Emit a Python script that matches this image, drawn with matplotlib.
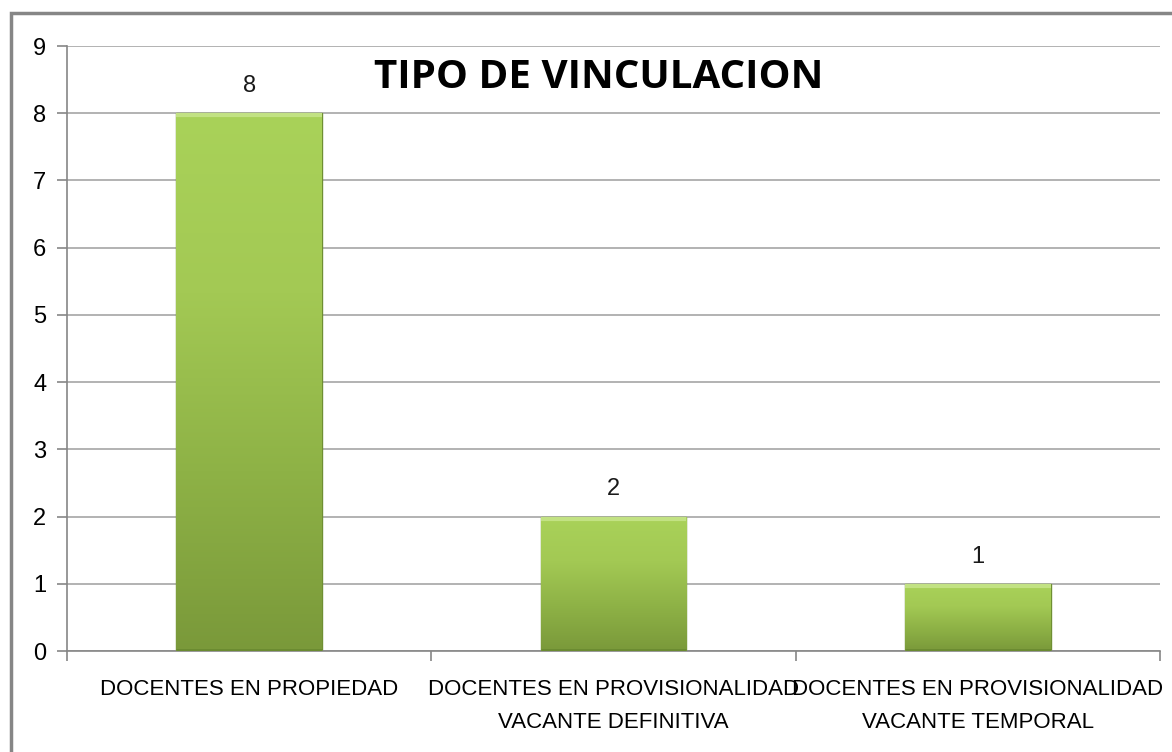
import numpy as np
import matplotlib.pyplot as plt
from matplotlib.colors import LinearSegmentedColormap
from matplotlib.patches import Rectangle

categorias = ["DOCENTES EN PROPIEDAD",
              "DOCENTES EN PROVISIONALIDAD\nVACANTE DEFINITIVA",
              "DOCENTES EN PROVISIONALIDAD\nVACANTE TEMPORAL"]
valores = [8, 2, 1]
titulo = "TIPO DE VINCULACION"

plt.rcParams['font.family'] = ['Liberation Sans', 'DejaVu Sans']

fig = plt.figure(figsize=(11.72, 7.52), dpi=100)
ax = fig.add_axes([67 / 1172, 101 / 752, 1093 / 1172, 605 / 752])

# borde exterior del grafico
fig.patches.append(Rectangle((11 / 1172, -0.01), 1.1, (752 - 13) / 752 + 0.01,
                             transform=fig.transFigure, fill=False,
                             edgecolor='#868686', linewidth=2.5))

x = np.arange(len(valores))
ax.set_xlim(-0.5, len(valores) - 0.5)
ax.set_ylim(0, 9)
ax.set_yticks(range(10))
ax.yaxis.grid(True, color='#a6a6a6', linewidth=1.2)
ax.set_axisbelow(True)

cmap = LinearSegmentedColormap.from_list('verde', ['#7a993a', '#8eb246', '#a3c954', '#a9d259'])
grad = np.linspace(0, 1, 256).reshape(-1, 1)
bars = ax.bar(x, valores, width=0.40, color='#9bc24d', edgecolor='#6f8f33', linewidth=1.0, zorder=2)
for b in bars:
    im = ax.imshow(grad, cmap=cmap, aspect='auto', origin='lower',
                   extent=[b.get_x(), b.get_x() + b.get_width(), 0, b.get_height()], zorder=3)
    im.set_clip_path(b)
    # bisel superior / inferior
    ax.plot([b.get_x(), b.get_x() + b.get_width()], [b.get_height() - 0.03] * 2,
            color='#c2e283', linewidth=3, zorder=4, solid_capstyle='butt')
    ax.plot([b.get_x(), b.get_x() + b.get_width()], [0.02, 0.02],
            color='#6a8a30', linewidth=2, zorder=4, solid_capstyle='butt')
for b, v in zip(bars, valores):
    ax.text(b.get_x() + b.get_width() / 2, v + 0.24, str(v), ha='center', va='bottom',
            fontsize=17, color='#1a1a1a')

ax.set_xticks(np.arange(len(valores) + 1) - 0.5, minor=False)
ax.set_xticklabels([])
ax.tick_params(axis='x', length=7, color='#868686', width=1.2)
ax.set_xticks(x, minor=True)
ax.set_xticklabels(categorias, minor=True, fontsize=16, linespacing=1.75)
ax.tick_params(axis='x', which='minor', length=0, pad=20)
ax.tick_params(axis='y', length=7, color='#868686', width=1.2, labelsize=17, pad=8)
for s in ['top', 'right']:
    ax.spines[s].set_visible(False)
ax.spines['left'].set_color('#868686')
ax.spines['bottom'].set_color('#868686')
ax.spines['left'].set_linewidth(1.2)
ax.spines['bottom'].set_linewidth(1.2)

ax.text(0.486, 0.98, titulo, ha='center', va='top', fontsize=29, fontweight='bold',
        family=['Open Sans', 'DejaVu Sans'], transform=ax.transAxes)

fig.savefig('out.png', dpi=100)
